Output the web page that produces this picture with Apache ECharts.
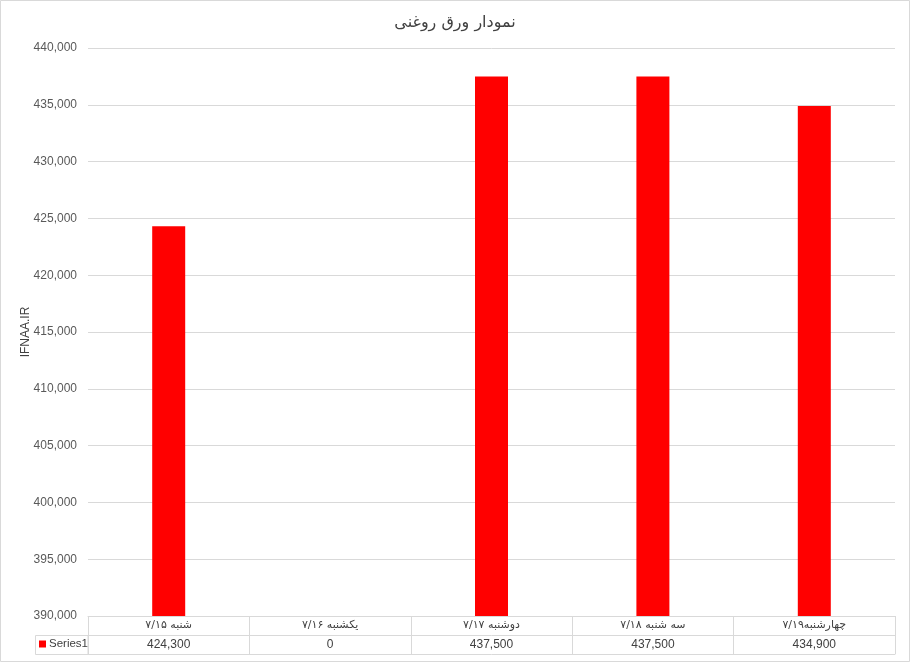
<!DOCTYPE html>
<html>
<head>
<meta charset="utf-8">
<script src="https://cdn.jsdelivr.net/npm/echarts@6/dist/echarts.min.js"></script>
<style>
html,body{margin:0;padding:0;background:#fff;}
#c{width:910px;height:662px;}
</style>
</head>
<body>
<div id="c"></div>
<script>
var titleText = 'نمودار ورق روغنی';
var categories = ['شنبه ۷/۱۵', 'یکشنبه ۷/۱۶', 'دوشنبه ۷/۱۷', 'سه شنبه ۷/۱۸', 'چهارشنبه۷/۱۹'];
var seriesName = 'Series1';
var values = [424300, 0, 437500, 437500, 434900];
var yMin = 390000, yMax = 440000, yStep = 5000;
var yName = 'IFNAA.IR';

function fmt(n){ return n.toString().replace(/\B(?=(\d{3})+(?!\d))/g, ','); }

var chart = echarts.init(document.getElementById('c'), null, {renderer:'canvas'});
var gridColor = '#d9d9d9';
var option = {
  animation: false,
  backgroundColor: '#fff',
  title: {
    text: titleText, left: 'center', top: 10,
    textStyle: {fontFamily: 'DejaVu Sans', fontSize: 16, fontWeight: 'normal', color: '#404040'}
  },
  legend: {
    data: [seriesName], left: 39, top: 638, padding: 0, icon: 'rect', itemWidth: 7, itemHeight: 7, itemGap: 4,
    textStyle: {fontFamily: 'Liberation Sans', fontSize: 11.5, color: '#404040', padding: [0,0,0,-2]}
  },
  grid: {left: 88, right: 15, top: 48, bottom: 46, containLabel: false},
  xAxis: [{
    type: 'category', data: categories, position: 'bottom',
    axisLine: {lineStyle: {color: gridColor}},
    axisTick: {show: true, length: 38, lineStyle: {color: gridColor}},
    axisLabel: {margin: 4, fontFamily: 'DejaVu Sans', fontSize: 11, color: '#404040', interval: 0}
  }, {
    type: 'category', data: categories, position: 'bottom', offset: 19,
    axisLine: {lineStyle: {color: gridColor}},
    axisTick: {show: false},
    axisLabel: {margin: 4, fontFamily: 'Liberation Sans', fontSize: 12, color: '#404040', interval: 0,
      formatter: function(v, i){ return fmt(values[i]); }}
  }, {
    type: 'category', data: categories, position: 'bottom', offset: 38,
    axisLine: {lineStyle: {color: gridColor}},
    axisTick: {show: false}, axisLabel: {show: false}
  }],
  yAxis: {
    type: 'value', min: yMin, max: yMax, interval: yStep,
    name: yName, nameLocation: 'middle', nameGap: 56, nameRotate: 90, nameMoveOverlap: false,
    nameTextStyle: {fontFamily: 'Liberation Sans', fontSize: 12, color: '#404040'},
    axisLine: {show: false}, axisTick: {show: false},
    axisLabel: {margin: 11, fontFamily: 'Liberation Sans', fontSize: 12, color: '#595959', formatter: function(v){ return fmt(v); }},
    splitLine: {lineStyle: {color: gridColor}}
  },
  series: [{
    name: seriesName, type: 'bar', data: values, barWidth: 33,
    itemStyle: {color: '#ff0000'}
  }],
  graphic: [
    {type: 'rect', shape: {x: 0.5, y: 0.5, width: 909, height: 661}, style: {fill: 'none', stroke: gridColor, lineWidth: 1}, silent: true},
    {type: 'rect', shape: {x: 35.5, y: 635.5, width: 52.5, height: 19}, style: {fill: 'none', stroke: gridColor, lineWidth: 1}, silent: true}
  ]
};
chart.setOption(option);
</script>
</body>
</html>
